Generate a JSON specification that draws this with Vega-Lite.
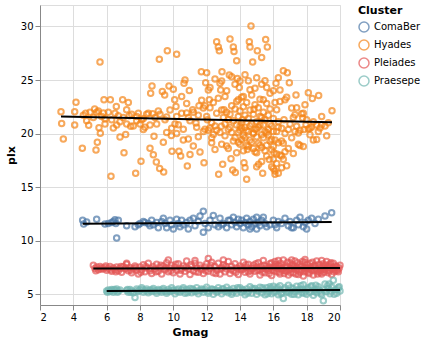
{
"$schema": "https://vega.github.io/schema/vega-lite/v6.json",
"width": 300,
"height": 300,
"config": {"font": "DejaVu Sans"},
"datasets": {
"ComaBer": [
{"Gmag":4.56,"plx":11.9},{"Gmag":4.62,"plx":11.55},{"Gmag":4.8,"plx":11.75},{"Gmag":5.4,"plx":12.0},{"Gmag":5.9,"plx":11.55},{"Gmag":6.1,"plx":11.6},{"Gmag":6.3,"plx":11.7},{"Gmag":6.4,"plx":11.8},{"Gmag":6.5,"plx":11.95},{"Gmag":6.6,"plx":10.25},{"Gmag":6.55,"plx":11.6},{"Gmag":6.7,"plx":11.9},{"Gmag":7.2,"plx":11.4},{"Gmag":7.7,"plx":11.3},{"Gmag":7.9,"plx":11.5},{"Gmag":8.0,"plx":11.6},{"Gmag":8.2,"plx":11.8},{"Gmag":8.3,"plx":11.7},{"Gmag":8.5,"plx":11.6},{"Gmag":8.6,"plx":11.4},{"Gmag":8.7,"plx":11.9},{"Gmag":8.8,"plx":11.5},{"Gmag":9.0,"plx":11.7},{"Gmag":9.1,"plx":11.2},{"Gmag":9.3,"plx":11.8},{"Gmag":9.4,"plx":12.1},{"Gmag":9.5,"plx":11.6},{"Gmag":9.6,"plx":11.2},{"Gmag":9.8,"plx":11.9},{"Gmag":9.9,"plx":11.5},{"Gmag":10.0,"plx":11.1},{"Gmag":10.2,"plx":12.0},{"Gmag":10.3,"plx":11.6},{"Gmag":10.4,"plx":11.3},{"Gmag":10.5,"plx":11.9},{"Gmag":10.6,"plx":11.5},{"Gmag":10.8,"plx":11.7},{"Gmag":10.9,"plx":11.1},{"Gmag":11.0,"plx":11.9},{"Gmag":11.2,"plx":12.1},{"Gmag":11.3,"plx":11.4},{"Gmag":11.5,"plx":11.8},{"Gmag":11.6,"plx":12.3},{"Gmag":11.8,"plx":12.75},{"Gmag":11.8,"plx":10.8},{"Gmag":11.9,"plx":11.6},{"Gmag":12.1,"plx":11.2},{"Gmag":12.2,"plx":11.9},{"Gmag":12.4,"plx":12.35},{"Gmag":12.5,"plx":11.5},{"Gmag":12.7,"plx":11.3},{"Gmag":12.8,"plx":12.1},{"Gmag":13.0,"plx":11.6},{"Gmag":13.2,"plx":11.2},{"Gmag":13.3,"plx":11.9},{"Gmag":13.5,"plx":11.5},{"Gmag":13.6,"plx":12.2},{"Gmag":13.7,"plx":11.7},{"Gmag":13.8,"plx":11.3},{"Gmag":13.9,"plx":12.0},{"Gmag":14.0,"plx":11.6},{"Gmag":14.1,"plx":11.9},{"Gmag":14.2,"plx":11.2},{"Gmag":14.3,"plx":11.7},{"Gmag":14.4,"plx":12.1},{"Gmag":14.5,"plx":11.5},{"Gmag":14.6,"plx":11.8},{"Gmag":14.7,"plx":11.3},{"Gmag":14.8,"plx":12.0},{"Gmag":14.9,"plx":11.6},{"Gmag":15.0,"plx":11.1},{"Gmag":15.0,"plx":12.2},{"Gmag":15.1,"plx":11.7},{"Gmag":15.2,"plx":11.4},{"Gmag":15.3,"plx":11.9},{"Gmag":15.4,"plx":12.2},{"Gmag":15.5,"plx":11.6},{"Gmag":15.6,"plx":11.3},{"Gmag":16.0,"plx":11.9},{"Gmag":16.1,"plx":11.5},{"Gmag":16.2,"plx":11.2},{"Gmag":16.3,"plx":11.8},{"Gmag":16.5,"plx":11.6},{"Gmag":16.7,"plx":12.1},{"Gmag":16.9,"plx":11.4},{"Gmag":17.0,"plx":11.8},{"Gmag":17.2,"plx":11.2},{"Gmag":17.4,"plx":11.9},{"Gmag":17.5,"plx":11.5},{"Gmag":17.6,"plx":12.2},{"Gmag":17.8,"plx":11.3},{"Gmag":17.9,"plx":11.7},{"Gmag":18.0,"plx":11.1},{"Gmag":18.1,"plx":11.9},{"Gmag":18.3,"plx":12.1},{"Gmag":18.5,"plx":11.6},{"Gmag":18.7,"plx":12.0},{"Gmag":19.1,"plx":12.3},{"Gmag":19.5,"plx":12.6},{"Gmag":12.9,"plx":11.5},{"Gmag":13.4,"plx":11.9},{"Gmag":14.6,"plx":11.1},{"Gmag":15.8,"plx":11.5},{"Gmag":17.1,"plx":11.2}
],
"Hyades": [
{"Gmag":3.26,"plx":22.04},{"Gmag":3.3,"plx":20.93},{"Gmag":3.4,"plx":19.5},{"Gmag":4.16,"plx":22.93},{"Gmag":4.08,"plx":22.04},{"Gmag":4.08,"plx":20.8},{"Gmag":4.54,"plx":18.64},{"Gmag":4.6,"plx":21.7},{"Gmag":4.74,"plx":21.9},{"Gmag":4.92,"plx":20.77},{"Gmag":5.28,"plx":22.3},{"Gmag":5.4,"plx":21.98},{"Gmag":5.44,"plx":19.2},{"Gmag":5.36,"plx":18.46},{"Gmag":5.6,"plx":26.67},{"Gmag":5.54,"plx":20.55},{"Gmag":5.62,"plx":20.03},{"Gmag":5.84,"plx":23.15},{"Gmag":5.8,"plx":21.91},{"Gmag":5.9,"plx":21.39},{"Gmag":6.22,"plx":23.15},{"Gmag":6.26,"plx":16.02},{"Gmag":6.4,"plx":20.52},{"Gmag":6.58,"plx":22.53},{"Gmag":6.7,"plx":21.67},{"Gmag":6.8,"plx":19.69},{"Gmag":6.96,"plx":23.15},{"Gmag":7.04,"plx":18.21},{"Gmag":7.14,"plx":19.91},{"Gmag":7.3,"plx":22.9},{"Gmag":7.2,"plx":22.22},{"Gmag":7.36,"plx":21.67},{"Gmag":7.44,"plx":20.68},{"Gmag":7.74,"plx":16.3},{"Gmag":7.8,"plx":21.6},{"Gmag":7.9,"plx":21.9},{"Gmag":8.06,"plx":17.41},{"Gmag":8.1,"plx":21.3},{"Gmag":8.2,"plx":20.37},{"Gmag":8.4,"plx":21.8},{"Gmag":8.6,"plx":18.64},{"Gmag":8.64,"plx":23.77},{"Gmag":8.72,"plx":24.44},{"Gmag":8.76,"plx":21.85},{"Gmag":8.8,"plx":18.02},{"Gmag":8.84,"plx":19.75},{"Gmag":8.98,"plx":17.35},{"Gmag":9.1,"plx":22.1},{"Gmag":9.18,"plx":16.73},{"Gmag":9.16,"plx":26.94},{"Gmag":9.34,"plx":23.92},{"Gmag":9.4,"plx":19.2},{"Gmag":9.42,"plx":16.42},{"Gmag":9.48,"plx":23.61},{"Gmag":9.6,"plx":21.54},{"Gmag":9.64,"plx":27.72},{"Gmag":9.74,"plx":24.44},{"Gmag":9.88,"plx":19.81},{"Gmag":9.92,"plx":18.36},{"Gmag":10.0,"plx":24.13},{"Gmag":10.08,"plx":23.15},{"Gmag":10.16,"plx":22.53},{"Gmag":10.2,"plx":27.41},{"Gmag":10.3,"plx":20.83},{"Gmag":10.34,"plx":18.36},{"Gmag":10.44,"plx":17.9},{"Gmag":10.5,"plx":23.46},{"Gmag":10.64,"plx":24.69},{"Gmag":10.7,"plx":25.0},{"Gmag":10.8,"plx":21.91},{"Gmag":10.84,"plx":16.98},{"Gmag":10.9,"plx":19.5},{"Gmag":10.96,"plx":24.01},{"Gmag":11.0,"plx":18.05},{"Gmag":11.16,"plx":22.22},{"Gmag":11.2,"plx":18.83},{"Gmag":11.36,"plx":20.99},{"Gmag":11.54,"plx":22.59},{"Gmag":11.6,"plx":18.27},{"Gmag":11.68,"plx":25.77},{"Gmag":11.8,"plx":22.38},{"Gmag":11.84,"plx":17.28},{"Gmag":11.94,"plx":24.75},{"Gmag":12.0,"plx":25.68},{"Gmag":12.04,"plx":21.3},{"Gmag":12.1,"plx":24.07},{"Gmag":12.16,"plx":23.15},{"Gmag":12.2,"plx":20.52},{"Gmag":12.3,"plx":19.14},{"Gmag":12.4,"plx":19.91},{"Gmag":12.5,"plx":18.52},{"Gmag":12.6,"plx":28.58},{"Gmag":12.7,"plx":28.09},{"Gmag":12.76,"plx":27.72},{"Gmag":12.72,"plx":16.2},{"Gmag":12.8,"plx":24.69},{"Gmag":12.84,"plx":24.07},{"Gmag":12.88,"plx":20.68},{"Gmag":12.92,"plx":25.77},{"Gmag":12.96,"plx":17.13},{"Gmag":13.04,"plx":22.22},{"Gmag":13.1,"plx":23.46},{"Gmag":13.2,"plx":18.83},{"Gmag":13.3,"plx":21.3},{"Gmag":13.36,"plx":25.46},{"Gmag":13.4,"plx":28.83},{"Gmag":13.46,"plx":17.65},{"Gmag":13.56,"plx":16.6},{"Gmag":13.6,"plx":28.09},{"Gmag":13.64,"plx":27.65},{"Gmag":13.72,"plx":16.36},{"Gmag":13.8,"plx":26.79},{"Gmag":13.84,"plx":25.15},{"Gmag":13.9,"plx":23.15},{"Gmag":13.96,"plx":24.29},{"Gmag":14.0,"plx":20.68},{"Gmag":14.1,"plx":19.44},{"Gmag":14.16,"plx":21.3},{"Gmag":14.2,"plx":23.46},{"Gmag":14.24,"plx":17.28},{"Gmag":14.3,"plx":16.82},{"Gmag":14.4,"plx":15.74},{"Gmag":14.44,"plx":18.52},{"Gmag":14.5,"plx":24.94},{"Gmag":14.56,"plx":28.58},{"Gmag":14.6,"plx":28.09},{"Gmag":14.66,"plx":30.03},{"Gmag":14.76,"plx":26.67},{"Gmag":14.8,"plx":20.06},{"Gmag":14.84,"plx":22.28},{"Gmag":14.9,"plx":24.23},{"Gmag":15.0,"plx":18.21},{"Gmag":15.04,"plx":27.72},{"Gmag":15.12,"plx":17.13},{"Gmag":15.2,"plx":21.6},{"Gmag":15.3,"plx":27.1},{"Gmag":15.36,"plx":16.3},{"Gmag":15.4,"plx":23.15},{"Gmag":15.5,"plx":24.94},{"Gmag":15.54,"plx":28.77},{"Gmag":15.64,"plx":28.09},{"Gmag":15.7,"plx":20.37},{"Gmag":15.76,"plx":17.59},{"Gmag":15.8,"plx":23.77},{"Gmag":15.9,"plx":19.44},{"Gmag":16.0,"plx":16.73},{"Gmag":16.04,"plx":18.21},{"Gmag":16.1,"plx":16.2},{"Gmag":16.16,"plx":24.69},{"Gmag":16.2,"plx":22.22},{"Gmag":16.3,"plx":19.14},{"Gmag":16.4,"plx":24.07},{"Gmag":16.5,"plx":17.9},{"Gmag":16.6,"plx":25.86},{"Gmag":16.64,"plx":21.3},{"Gmag":16.7,"plx":23.15},{"Gmag":16.8,"plx":23.4},{"Gmag":16.84,"plx":25.68},{"Gmag":16.9,"plx":20.37},{"Gmag":16.96,"plx":24.75},{"Gmag":17.1,"plx":22.38},{"Gmag":17.2,"plx":18.15},{"Gmag":17.3,"plx":21.76},{"Gmag":17.36,"plx":23.61},{"Gmag":17.4,"plx":20.68},{"Gmag":17.5,"plx":20.06},{"Gmag":17.6,"plx":18.89},{"Gmag":17.7,"plx":21.85},{"Gmag":17.76,"plx":21.45},{"Gmag":17.84,"plx":20.37},{"Gmag":17.96,"plx":20.83},{"Gmag":18.1,"plx":20.43},{"Gmag":18.3,"plx":20.62},{"Gmag":18.34,"plx":23.27},{"Gmag":18.6,"plx":19.44},{"Gmag":18.72,"plx":23.55},{"Gmag":18.8,"plx":20.52},{"Gmag":18.9,"plx":20.83},{"Gmag":19.52,"plx":22.13},
{"Gmag":13.0,"plx":21.5},{"Gmag":13.1,"plx":20.9},{"Gmag":13.2,"plx":22.0},{"Gmag":13.3,"plx":20.4},{"Gmag":13.4,"plx":21.8},{"Gmag":13.5,"plx":22.6},{"Gmag":13.5,"plx":20.1},{"Gmag":13.6,"plx":21.2},{"Gmag":13.7,"plx":19.6},{"Gmag":13.7,"plx":22.3},{"Gmag":13.8,"plx":20.8},{"Gmag":13.8,"plx":23.0},{"Gmag":13.9,"plx":21.6},{"Gmag":13.9,"plx":19.2},{"Gmag":14.0,"plx":22.1},{"Gmag":14.0,"plx":20.3},{"Gmag":14.1,"plx":21.0},{"Gmag":14.1,"plx":23.4},{"Gmag":14.2,"plx":19.8},{"Gmag":14.2,"plx":22.5},{"Gmag":14.3,"plx":20.6},{"Gmag":14.3,"plx":21.7},{"Gmag":14.4,"plx":18.9},{"Gmag":14.4,"plx":22.9},{"Gmag":14.5,"plx":20.2},{"Gmag":14.5,"plx":21.4},{"Gmag":14.6,"plx":19.4},{"Gmag":14.6,"plx":22.2},{"Gmag":14.7,"plx":20.9},{"Gmag":14.7,"plx":23.6},{"Gmag":14.8,"plx":21.8},{"Gmag":14.8,"plx":18.6},{"Gmag":14.9,"plx":20.4},{"Gmag":14.9,"plx":22.7},{"Gmag":15.0,"plx":21.1},{"Gmag":15.0,"plx":19.7},{"Gmag":15.1,"plx":22.4},{"Gmag":15.1,"plx":20.6},{"Gmag":15.2,"plx":23.2},{"Gmag":15.2,"plx":18.9},{"Gmag":15.3,"plx":21.5},{"Gmag":15.3,"plx":19.9},{"Gmag":15.4,"plx":22.0},{"Gmag":15.4,"plx":20.8},{"Gmag":15.5,"plx":21.3},{"Gmag":15.5,"plx":18.4},{"Gmag":15.6,"plx":22.8},{"Gmag":15.6,"plx":20.1},{"Gmag":15.7,"plx":21.7},{"Gmag":15.8,"plx":19.3},{"Gmag":15.8,"plx":22.3},{"Gmag":15.9,"plx":20.7},{"Gmag":16.0,"plx":21.4},{"Gmag":16.0,"plx":18.8},{"Gmag":16.1,"plx":22.9},{"Gmag":16.2,"plx":20.2},{"Gmag":16.3,"plx":21.1},{"Gmag":16.4,"plx":23.0},{"Gmag":16.5,"plx":20.5},{"Gmag":16.6,"plx":19.1},
{"Gmag":12.0,"plx":21.6},{"Gmag":12.1,"plx":20.3},{"Gmag":12.2,"plx":22.4},{"Gmag":12.3,"plx":21.0},{"Gmag":12.4,"plx":22.9},{"Gmag":12.5,"plx":20.7},{"Gmag":12.6,"plx":21.9},{"Gmag":12.7,"plx":23.3},{"Gmag":12.8,"plx":20.1},{"Gmag":12.9,"plx":22.2},{"Gmag":11.0,"plx":21.2},{"Gmag":11.2,"plx":22.0},{"Gmag":11.4,"plx":20.6},{"Gmag":11.5,"plx":21.7},{"Gmag":11.7,"plx":23.1},{"Gmag":11.8,"plx":20.2},{"Gmag":11.9,"plx":22.6},{"Gmag":10.5,"plx":21.9},{"Gmag":10.6,"plx":20.4},{"Gmag":10.8,"plx":22.8},{"Gmag":10.9,"plx":21.5},{"Gmag":10.1,"plx":20.9},{"Gmag":10.2,"plx":21.6},{"Gmag":9.8,"plx":22.2},{"Gmag":9.9,"plx":20.5},{"Gmag":9.5,"plx":21.3},{"Gmag":9.6,"plx":20.1},{"Gmag":9.2,"plx":21.8},{"Gmag":9.0,"plx":20.9},{"Gmag":8.9,"plx":21.5},{"Gmag":8.6,"plx":20.8},{"Gmag":8.5,"plx":21.9},{"Gmag":8.3,"plx":20.6},{"Gmag":8.2,"plx":21.4},{"Gmag":8.0,"plx":20.9},{"Gmag":7.8,"plx":21.2},{"Gmag":7.6,"plx":20.7},{"Gmag":7.5,"plx":21.8},{"Gmag":7.2,"plx":20.9},{"Gmag":7.0,"plx":21.5},{"Gmag":6.8,"plx":21.1},{"Gmag":6.6,"plx":20.8},{"Gmag":6.5,"plx":21.9},{"Gmag":6.3,"plx":21.3},{"Gmag":6.1,"plx":22.0},{"Gmag":5.9,"plx":20.9},{"Gmag":5.7,"plx":21.6},{"Gmag":5.5,"plx":22.1},{"Gmag":5.2,"plx":21.5},{"Gmag":5.0,"plx":22.0},{"Gmag":4.8,"plx":21.2},
{"Gmag":15.9,"plx":16.9},{"Gmag":16.0,"plx":17.6},{"Gmag":16.1,"plx":16.5},{"Gmag":16.2,"plx":17.2},{"Gmag":16.3,"plx":16.3},{"Gmag":16.4,"plx":18.0},{"Gmag":16.5,"plx":16.8},{"Gmag":16.6,"plx":17.6},{"Gmag":16.7,"plx":18.3},{"Gmag":16.8,"plx":17.0},{"Gmag":15.6,"plx":17.9},{"Gmag":15.3,"plx":17.4},{"Gmag":15.0,"plx":16.9},
{"Gmag":17.0,"plx":20.9},{"Gmag":17.2,"plx":21.5},{"Gmag":17.4,"plx":22.4},{"Gmag":17.6,"plx":20.3},{"Gmag":17.8,"plx":21.9},{"Gmag":18.0,"plx":21.3},{"Gmag":18.2,"plx":20.5},{"Gmag":18.4,"plx":21.1},{"Gmag":18.6,"plx":20.8},{"Gmag":18.9,"plx":21.6},{"Gmag":19.1,"plx":20.7},{"Gmag":19.3,"plx":21.0},
{"Gmag":12.2,"plx":24.3},{"Gmag":12.5,"plx":25.1},{"Gmag":12.9,"plx":24.9},{"Gmag":13.2,"plx":24.0},{"Gmag":13.5,"plx":25.3},{"Gmag":13.7,"plx":24.6},{"Gmag":14.0,"plx":24.9},{"Gmag":14.3,"plx":25.5},{"Gmag":14.6,"plx":24.1},{"Gmag":15.0,"plx":25.2},{"Gmag":15.3,"plx":24.6},{"Gmag":15.6,"plx":24.3},{"Gmag":16.0,"plx":24.0},{"Gmag":16.3,"plx":25.2},
{"Gmag":17.8,"plx":18.8},{"Gmag":18.4,"plx":19.4},{"Gmag":18.1,"plx":23.8},{"Gmag":17.9,"plx":22.7},
{"Gmag":12.3,"plx":19.6},{"Gmag":12.6,"plx":20.3},{"Gmag":12.9,"plx":19.0},{"Gmag":13.1,"plx":19.8},{"Gmag":13.3,"plx":18.6},{"Gmag":13.4,"plx":20.6},{"Gmag":13.6,"plx":19.3},{"Gmag":13.8,"plx":18.2},{"Gmag":13.9,"plx":20.1},{"Gmag":14.0,"plx":19.0},{"Gmag":14.1,"plx":20.5},{"Gmag":14.2,"plx":18.4},{"Gmag":14.3,"plx":19.6},{"Gmag":14.4,"plx":20.3},{"Gmag":14.5,"plx":18.8},{"Gmag":14.6,"plx":20.7},{"Gmag":14.7,"plx":19.2},{"Gmag":14.8,"plx":20.0},{"Gmag":14.9,"plx":18.3},{"Gmag":15.0,"plx":20.4},{"Gmag":15.1,"plx":19.1},{"Gmag":15.2,"plx":20.8},{"Gmag":15.3,"plx":18.7},{"Gmag":15.4,"plx":19.6},{"Gmag":15.5,"plx":20.2},{"Gmag":15.6,"plx":18.9},{"Gmag":15.7,"plx":19.9},{"Gmag":15.8,"plx":20.9},{"Gmag":15.9,"plx":18.5},{"Gmag":16.0,"plx":20.2},{"Gmag":16.1,"plx":19.4},{"Gmag":16.2,"plx":18.1},{"Gmag":16.3,"plx":20.6},{"Gmag":16.5,"plx":19.3},{"Gmag":16.7,"plx":20.0},{"Gmag":16.9,"plx":18.6},{"Gmag":17.1,"plx":19.6},{"Gmag":17.3,"plx":20.2},{"Gmag":17.5,"plx":19.0},{"Gmag":18.2,"plx":19.9},{"Gmag":18.7,"plx":20.2},{"Gmag":19.2,"plx":19.8},{"Gmag":11.5,"plx":19.7},{"Gmag":11.9,"plx":20.4},{"Gmag":10.6,"plx":19.4},{"Gmag":10.2,"plx":20.0}
],
"Pleiades": [
{"Gmag":5.2,"plx":7.7},{"Gmag":5.3,"plx":7.4},{"Gmag":5.4,"plx":7.55},{"Gmag":5.5,"plx":7.3},{"Gmag":5.6,"plx":7.6},{"Gmag":5.7,"plx":7.45},{"Gmag":5.8,"plx":7.35},{"Gmag":5.9,"plx":7.5},{"Gmag":6.0,"plx":7.25},{"Gmag":6.1,"plx":7.4},{"Gmag":6.2,"plx":7.6},{"Gmag":6.3,"plx":7.15},{"Gmag":6.4,"plx":7.45},{"Gmag":6.5,"plx":7.3},{"Gmag":6.6,"plx":7.55},{"Gmag":6.7,"plx":7.2},{"Gmag":6.8,"plx":7.4},{"Gmag":6.9,"plx":7.05},{"Gmag":7.0,"plx":7.6},{"Gmag":7.1,"plx":7.35},{"Gmag":7.2,"plx":7.8},{"Gmag":7.3,"plx":7.2},{"Gmag":7.4,"plx":7.5},{"Gmag":7.5,"plx":7.0},{"Gmag":7.6,"plx":7.4},{"Gmag":7.7,"plx":7.65},{"Gmag":7.8,"plx":7.25},{"Gmag":7.9,"plx":6.9},{"Gmag":8.0,"plx":7.55},{"Gmag":8.1,"plx":7.3},{"Gmag":8.2,"plx":7.75},{"Gmag":8.3,"plx":7.1},{"Gmag":8.4,"plx":7.45},{"Gmag":8.5,"plx":7.9},{"Gmag":8.6,"plx":7.2},{"Gmag":8.7,"plx":6.95},{"Gmag":8.8,"plx":7.6},{"Gmag":8.9,"plx":7.35},{"Gmag":9.0,"plx":7.8},{"Gmag":9.1,"plx":7.15},{"Gmag":9.2,"plx":7.5},{"Gmag":9.3,"plx":6.9},{"Gmag":9.4,"plx":7.65},{"Gmag":9.5,"plx":7.3},{"Gmag":9.6,"plx":7.95},{"Gmag":9.7,"plx":7.1},{"Gmag":9.8,"plx":7.45},{"Gmag":9.9,"plx":7.7},{"Gmag":10.0,"plx":7.0},{"Gmag":10.1,"plx":7.55},{"Gmag":10.2,"plx":7.25},{"Gmag":10.3,"plx":7.85},{"Gmag":10.4,"plx":6.9},{"Gmag":10.5,"plx":7.4},{"Gmag":10.6,"plx":7.65},{"Gmag":10.7,"plx":7.15},{"Gmag":10.8,"plx":8.1},{"Gmag":10.9,"plx":7.35},{"Gmag":11.0,"plx":6.85},{"Gmag":11.1,"plx":7.6},{"Gmag":11.2,"plx":7.2},{"Gmag":11.3,"plx":7.9},{"Gmag":11.4,"plx":7.45},{"Gmag":11.5,"plx":7.05},{"Gmag":11.6,"plx":7.7},{"Gmag":11.7,"plx":7.3},{"Gmag":11.8,"plx":6.95},{"Gmag":11.9,"plx":7.55},{"Gmag":12.0,"plx":7.85},{"Gmag":12.1,"plx":7.15},{"Gmag":12.2,"plx":7.4},{"Gmag":12.3,"plx":8.0},{"Gmag":12.4,"plx":7.0},{"Gmag":12.5,"plx":7.6},{"Gmag":12.6,"plx":7.25},{"Gmag":12.7,"plx":7.9},{"Gmag":12.8,"plx":6.9},{"Gmag":12.9,"plx":7.5},{"Gmag":13.0,"plx":7.75},{"Gmag":13.1,"plx":7.1},{"Gmag":13.2,"plx":7.35},{"Gmag":13.3,"plx":8.05},{"Gmag":13.4,"plx":6.95},{"Gmag":13.5,"plx":7.6},{"Gmag":13.6,"plx":7.2},{"Gmag":13.7,"plx":7.85},{"Gmag":13.8,"plx":7.45},{"Gmag":13.9,"plx":6.85},{"Gmag":14.0,"plx":7.65},{"Gmag":14.1,"plx":7.3},{"Gmag":14.2,"plx":8.0},{"Gmag":14.3,"plx":7.05},{"Gmag":14.4,"plx":7.5},{"Gmag":14.5,"plx":7.8},{"Gmag":14.6,"plx":6.9},{"Gmag":14.7,"plx":7.4},{"Gmag":14.8,"plx":7.7},{"Gmag":14.9,"plx":7.15},{"Gmag":15.0,"plx":7.55},{"Gmag":15.1,"plx":7.95},{"Gmag":15.2,"plx":6.8},{"Gmag":15.3,"plx":7.35},{"Gmag":15.4,"plx":8.15},{"Gmag":15.5,"plx":7.0},{"Gmag":15.6,"plx":7.6},{"Gmag":15.7,"plx":7.25},{"Gmag":15.8,"plx":7.85},{"Gmag":15.9,"plx":6.75},{"Gmag":16.0,"plx":7.5},{"Gmag":16.1,"plx":8.05},{"Gmag":16.2,"plx":7.1},{"Gmag":16.3,"plx":7.7},{"Gmag":16.4,"plx":6.9},{"Gmag":16.5,"plx":7.4},{"Gmag":16.6,"plx":8.2},{"Gmag":16.7,"plx":7.2},{"Gmag":16.8,"plx":7.65},{"Gmag":16.9,"plx":6.8},{"Gmag":17.0,"plx":7.95},{"Gmag":17.1,"plx":7.35},{"Gmag":17.2,"plx":7.0},{"Gmag":17.3,"plx":8.1},{"Gmag":17.4,"plx":7.55},{"Gmag":17.5,"plx":6.85},{"Gmag":17.6,"plx":7.8},{"Gmag":17.7,"plx":7.3},{"Gmag":17.8,"plx":6.7},{"Gmag":17.9,"plx":8.0},{"Gmag":18.0,"plx":7.45},{"Gmag":18.1,"plx":7.05},{"Gmag":18.2,"plx":7.9},{"Gmag":18.3,"plx":7.25},{"Gmag":18.4,"plx":6.8},{"Gmag":18.5,"plx":7.7},{"Gmag":18.6,"plx":8.1},{"Gmag":18.7,"plx":7.15},{"Gmag":18.8,"plx":7.5},{"Gmag":18.9,"plx":6.9},{"Gmag":19.0,"plx":7.85},{"Gmag":19.1,"plx":7.35},{"Gmag":19.2,"plx":8.05},{"Gmag":19.3,"plx":7.0},{"Gmag":19.4,"plx":7.6},{"Gmag":19.5,"plx":6.85},{"Gmag":19.6,"plx":7.9},{"Gmag":19.7,"plx":7.3},{"Gmag":19.8,"plx":7.55},{"Gmag":19.9,"plx":7.1},{"Gmag":20.0,"plx":7.7},
{"Gmag":5.35,"plx":7.2},{"Gmag":5.65,"plx":7.35},{"Gmag":5.95,"plx":7.65},{"Gmag":6.25,"plx":7.3},{"Gmag":6.55,"plx":7.1},{"Gmag":6.85,"plx":7.6},{"Gmag":7.15,"plx":7.45},{"Gmag":7.45,"plx":7.25},{"Gmag":7.75,"plx":7.5},{"Gmag":8.05,"plx":7.05},{"Gmag":8.35,"plx":7.6},{"Gmag":8.65,"plx":7.4},{"Gmag":8.95,"plx":7.1},{"Gmag":9.25,"plx":7.7},{"Gmag":9.55,"plx":7.45},{"Gmag":9.85,"plx":7.2},{"Gmag":10.15,"plx":7.8},{"Gmag":10.45,"plx":7.25},{"Gmag":10.75,"plx":7.5},{"Gmag":11.05,"plx":7.75},{"Gmag":11.35,"plx":7.1},{"Gmag":11.65,"plx":7.45},{"Gmag":11.95,"plx":7.2},{"Gmag":12.25,"plx":7.7},{"Gmag":12.55,"plx":6.95},{"Gmag":12.85,"plx":7.35},{"Gmag":13.15,"plx":7.6},{"Gmag":13.45,"plx":7.3},{"Gmag":13.75,"plx":7.05},{"Gmag":14.05,"plx":7.45},{"Gmag":14.35,"plx":7.75},{"Gmag":14.65,"plx":7.2},{"Gmag":14.95,"plx":7.85},{"Gmag":15.15,"plx":7.3},{"Gmag":15.35,"plx":7.05},{"Gmag":15.45,"plx":7.7},{"Gmag":15.65,"plx":7.4},{"Gmag":15.75,"plx":6.95},{"Gmag":15.85,"plx":7.55},{"Gmag":16.05,"plx":7.2},{"Gmag":16.15,"plx":7.8},{"Gmag":16.25,"plx":7.4},{"Gmag":16.35,"plx":7.05},{"Gmag":16.45,"plx":7.9},{"Gmag":16.55,"plx":7.25},{"Gmag":16.65,"plx":6.95},{"Gmag":16.75,"plx":7.5},{"Gmag":16.85,"plx":8.0},{"Gmag":16.95,"plx":7.3},{"Gmag":17.05,"plx":7.0},{"Gmag":17.15,"plx":7.75},{"Gmag":17.25,"plx":7.45},{"Gmag":17.35,"plx":6.9},{"Gmag":17.45,"plx":7.95},{"Gmag":17.55,"plx":7.2},{"Gmag":17.65,"plx":7.6},{"Gmag":17.75,"plx":8.05},{"Gmag":17.85,"plx":7.1},{"Gmag":17.95,"plx":7.4},{"Gmag":18.05,"plx":7.75},{"Gmag":18.15,"plx":6.95},{"Gmag":18.25,"plx":7.55},{"Gmag":18.35,"plx":8.0},{"Gmag":18.45,"plx":7.2},{"Gmag":18.55,"plx":7.4},{"Gmag":18.65,"plx":6.9},{"Gmag":18.75,"plx":7.8},{"Gmag":18.85,"plx":7.25},{"Gmag":18.95,"plx":7.6},{"Gmag":19.05,"plx":7.05},{"Gmag":19.15,"plx":7.7},{"Gmag":19.25,"plx":7.45},{"Gmag":19.35,"plx":7.2},{"Gmag":19.45,"plx":7.95},{"Gmag":19.55,"plx":7.4},{"Gmag":19.65,"plx":7.1},{"Gmag":19.75,"plx":7.65},{"Gmag":19.85,"plx":7.3},{"Gmag":19.95,"plx":7.45},
{"Gmag":14.2,"plx":7.35},{"Gmag":14.5,"plx":7.1},{"Gmag":14.8,"plx":7.45},{"Gmag":15.05,"plx":7.25},{"Gmag":15.25,"plx":7.6},{"Gmag":15.55,"plx":7.35},{"Gmag":15.95,"plx":7.3},{"Gmag":16.1,"plx":7.55},{"Gmag":16.4,"plx":7.6},{"Gmag":16.6,"plx":7.45},{"Gmag":16.8,"plx":7.15},{"Gmag":17.0,"plx":7.4},{"Gmag":17.2,"plx":7.6},{"Gmag":17.4,"plx":7.3},{"Gmag":17.6,"plx":7.05},{"Gmag":17.8,"plx":7.5},{"Gmag":18.0,"plx":7.2},{"Gmag":18.2,"plx":7.35},{"Gmag":18.4,"plx":7.6},{"Gmag":18.6,"plx":7.3},{"Gmag":18.8,"plx":7.0},{"Gmag":19.0,"plx":7.5},{"Gmag":19.2,"plx":7.25},{"Gmag":19.4,"plx":7.8},{"Gmag":19.6,"plx":7.5},{"Gmag":19.8,"plx":7.2},{"Gmag":15.9,"plx":7.95},{"Gmag":16.3,"plx":8.15},{"Gmag":17.1,"plx":8.2},{"Gmag":17.9,"plx":8.25},{"Gmag":18.9,"plx":8.15},{"Gmag":12.1,"plx":8.35},{"Gmag":13.0,"plx":8.2},{"Gmag":9.7,"plx":8.2},{"Gmag":11.3,"plx":8.15},{"Gmag":7.2,"plx":7.9}
],
"Praesepe": [
{"Gmag":6.0,"plx":5.3},{"Gmag":6.1,"plx":5.4},{"Gmag":6.2,"plx":5.25},{"Gmag":6.3,"plx":5.45},{"Gmag":6.4,"plx":5.2},{"Gmag":6.5,"plx":5.35},{"Gmag":6.6,"plx":5.5},{"Gmag":6.7,"plx":5.3},{"Gmag":6.8,"plx":5.4},{"Gmag":7.2,"plx":5.35},{"Gmag":7.3,"plx":5.2},{"Gmag":7.4,"plx":5.45},{"Gmag":7.5,"plx":5.3},{"Gmag":7.6,"plx":5.15},{"Gmag":7.7,"plx":4.7},{"Gmag":7.8,"plx":5.5},{"Gmag":7.9,"plx":5.25},{"Gmag":8.0,"plx":5.4},{"Gmag":8.1,"plx":5.6},{"Gmag":8.2,"plx":5.2},{"Gmag":8.3,"plx":5.35},{"Gmag":8.4,"plx":5.5},{"Gmag":8.5,"plx":5.15},{"Gmag":8.6,"plx":5.4},{"Gmag":8.7,"plx":5.25},{"Gmag":8.8,"plx":5.55},{"Gmag":8.9,"plx":5.3},{"Gmag":9.0,"plx":5.1},{"Gmag":9.1,"plx":5.45},{"Gmag":9.2,"plx":5.35},{"Gmag":9.3,"plx":5.2},{"Gmag":9.4,"plx":5.55},{"Gmag":9.5,"plx":5.3},{"Gmag":9.6,"plx":5.1},{"Gmag":9.7,"plx":5.45},{"Gmag":9.8,"plx":5.25},{"Gmag":9.9,"plx":5.6},{"Gmag":10.0,"plx":5.35},{"Gmag":10.1,"plx":5.05},{"Gmag":10.2,"plx":5.4},{"Gmag":10.3,"plx":5.5},{"Gmag":10.4,"plx":5.2},{"Gmag":10.5,"plx":5.35},{"Gmag":10.6,"plx":5.6},{"Gmag":10.7,"plx":5.1},{"Gmag":10.8,"plx":5.45},{"Gmag":10.9,"plx":5.3},{"Gmag":11.0,"plx":5.55},{"Gmag":11.1,"plx":5.15},{"Gmag":11.2,"plx":5.4},{"Gmag":11.3,"plx":5.25},{"Gmag":11.4,"plx":5.6},{"Gmag":11.5,"plx":5.05},{"Gmag":11.6,"plx":5.35},{"Gmag":11.7,"plx":5.5},{"Gmag":11.8,"plx":5.2},{"Gmag":11.9,"plx":5.45},{"Gmag":12.0,"plx":5.65},{"Gmag":12.1,"plx":5.1},{"Gmag":12.2,"plx":5.3},{"Gmag":12.3,"plx":5.5},{"Gmag":12.4,"plx":5.0},{"Gmag":12.5,"plx":5.4},{"Gmag":12.6,"plx":5.2},{"Gmag":12.7,"plx":5.6},{"Gmag":12.8,"plx":5.35},{"Gmag":12.9,"plx":5.05},{"Gmag":13.0,"plx":5.5},{"Gmag":13.1,"plx":5.25},{"Gmag":13.2,"plx":5.65},{"Gmag":13.3,"plx":5.15},{"Gmag":13.4,"plx":5.4},{"Gmag":13.5,"plx":5.0},{"Gmag":13.6,"plx":5.55},{"Gmag":13.7,"plx":5.3},{"Gmag":13.8,"plx":5.1},{"Gmag":13.9,"plx":5.45},{"Gmag":14.0,"plx":5.6},{"Gmag":14.1,"plx":5.2},{"Gmag":14.2,"plx":5.35},{"Gmag":14.3,"plx":4.95},{"Gmag":14.4,"plx":5.5},{"Gmag":14.5,"plx":5.25},{"Gmag":14.6,"plx":5.7},{"Gmag":14.7,"plx":5.1},{"Gmag":14.8,"plx":5.4},{"Gmag":14.9,"plx":5.55},{"Gmag":15.0,"plx":5.0},{"Gmag":15.1,"plx":5.3},{"Gmag":15.2,"plx":5.65},{"Gmag":15.3,"plx":5.15},{"Gmag":15.4,"plx":5.45},{"Gmag":15.5,"plx":4.95},{"Gmag":15.6,"plx":5.6},{"Gmag":15.7,"plx":5.25},{"Gmag":15.8,"plx":5.4},{"Gmag":15.9,"plx":5.05},{"Gmag":16.0,"plx":5.75},{"Gmag":16.1,"plx":5.3},{"Gmag":16.2,"plx":5.5},{"Gmag":16.3,"plx":4.95},{"Gmag":16.4,"plx":5.4},{"Gmag":16.5,"plx":5.15},{"Gmag":16.6,"plx":4.6},{"Gmag":16.7,"plx":5.6},{"Gmag":16.8,"plx":5.2},{"Gmag":16.9,"plx":5.85},{"Gmag":17.0,"plx":5.35},{"Gmag":17.1,"plx":5.0},{"Gmag":17.2,"plx":5.55},{"Gmag":17.3,"plx":5.25},{"Gmag":17.4,"plx":5.75},{"Gmag":17.5,"plx":4.95},{"Gmag":17.6,"plx":5.45},{"Gmag":17.7,"plx":5.15},{"Gmag":17.8,"plx":5.9},{"Gmag":17.9,"plx":5.3},{"Gmag":18.0,"plx":5.0},{"Gmag":18.1,"plx":5.6},{"Gmag":18.2,"plx":5.2},{"Gmag":18.3,"plx":5.8},{"Gmag":18.4,"plx":4.9},{"Gmag":18.5,"plx":5.45},{"Gmag":18.6,"plx":5.15},{"Gmag":18.7,"plx":5.7},{"Gmag":18.8,"plx":5.3},{"Gmag":18.9,"plx":4.95},{"Gmag":19.0,"plx":4.4},{"Gmag":19.1,"plx":5.95},{"Gmag":19.2,"plx":5.25},{"Gmag":19.3,"plx":5.55},{"Gmag":19.4,"plx":5.05},{"Gmag":19.5,"plx":5.7},{"Gmag":19.6,"plx":6.3},{"Gmag":19.7,"plx":5.4},{"Gmag":19.8,"plx":5.1},{"Gmag":19.9,"plx":5.6},{"Gmag":20.0,"plx":5.3},
{"Gmag":6.05,"plx":5.2},{"Gmag":6.25,"plx":5.35},{"Gmag":6.45,"plx":5.45},{"Gmag":6.65,"plx":5.2},{"Gmag":7.25,"plx":5.45},{"Gmag":7.45,"plx":5.2},{"Gmag":7.85,"plx":5.35},{"Gmag":8.15,"plx":5.45},{"Gmag":8.45,"plx":5.3},{"Gmag":8.75,"plx":5.4},{"Gmag":9.05,"plx":5.3},{"Gmag":9.35,"plx":5.4},{"Gmag":9.65,"plx":5.25},{"Gmag":9.95,"plx":5.4},{"Gmag":10.25,"plx":5.25},{"Gmag":10.55,"plx":5.45},{"Gmag":10.85,"plx":5.15},{"Gmag":11.15,"plx":5.5},{"Gmag":11.45,"plx":5.3},{"Gmag":11.75,"plx":5.4},{"Gmag":12.05,"plx":5.25},{"Gmag":12.35,"plx":5.45},{"Gmag":12.65,"plx":5.3},{"Gmag":12.95,"plx":5.5},{"Gmag":13.25,"plx":5.35},{"Gmag":13.55,"plx":5.2},{"Gmag":13.85,"plx":5.6},{"Gmag":14.15,"plx":5.45},{"Gmag":14.45,"plx":5.1},{"Gmag":14.75,"plx":5.55},{"Gmag":15.05,"plx":5.35},{"Gmag":15.35,"plx":5.6},{"Gmag":15.65,"plx":5.05},{"Gmag":15.85,"plx":5.55},{"Gmag":16.05,"plx":5.2},{"Gmag":16.25,"plx":5.65},{"Gmag":16.45,"plx":5.05},{"Gmag":16.65,"plx":5.45},{"Gmag":16.85,"plx":5.3},{"Gmag":17.05,"plx":5.6},{"Gmag":17.25,"plx":5.0},{"Gmag":17.45,"plx":5.4},{"Gmag":17.65,"plx":5.8},{"Gmag":17.85,"plx":5.1},{"Gmag":18.05,"plx":5.45},{"Gmag":18.25,"plx":5.7},{"Gmag":18.45,"plx":5.25},{"Gmag":18.65,"plx":5.5},{"Gmag":18.85,"plx":5.1},{"Gmag":19.05,"plx":5.4},{"Gmag":19.25,"plx":5.8},{"Gmag":19.45,"plx":5.3},{"Gmag":19.65,"plx":5.0},{"Gmag":19.85,"plx":5.45},{"Gmag":19.95,"plx":5.7},{"Gmag":16.95,"plx":5.15},{"Gmag":17.75,"plx":5.5},{"Gmag":18.55,"plx":5.85},{"Gmag":19.35,"plx":5.95},{"Gmag":16.4,"plx":5.8},{"Gmag":15.8,"plx":5.7}
]
},
"encoding": {
"x": {"field": "Gmag", "type": "quantitative", "scale": {"zero": false}},
"y": {"field": "plx", "type": "quantitative", "scale": {"domain": [4, 32]}}
},
"layer": [
{"data": {"name": "ComaBer"}, "mark": {"type": "point"}, "encoding": {"color": {"datum": "ComaBer", "type": "nominal", "title": "Cluster", "scale": {"domain": ["ComaBer", "Hyades", "Pleiades", "Praesepe"]}}}},
{"data": {"name": "Hyades"}, "mark": {"type": "point"}, "encoding": {"color": {"datum": "Hyades", "type": "nominal", "title": "Cluster"}}},
{"data": {"name": "Pleiades"}, "mark": {"type": "point"}, "encoding": {"color": {"datum": "Pleiades", "type": "nominal", "title": "Cluster"}}},
{"data": {"name": "Praesepe"}, "mark": {"type": "point"}, "encoding": {"color": {"datum": "Praesepe", "type": "nominal", "title": "Cluster"}}},
{"data": {"name": "ComaBer"}, "transform": [{"regression": "plx", "on": "Gmag"}], "mark": {"type": "line", "color": "black"}, "encoding": {}},
{"data": {"name": "Hyades"}, "transform": [{"regression": "plx", "on": "Gmag"}], "mark": {"type": "line", "color": "black"}, "encoding": {}},
{"data": {"name": "Pleiades"}, "transform": [{"regression": "plx", "on": "Gmag"}], "mark": {"type": "line", "color": "black"}, "encoding": {}},
{"data": {"name": "Praesepe"}, "transform": [{"regression": "plx", "on": "Gmag"}], "mark": {"type": "line", "color": "black"}, "encoding": {}}
]
}
